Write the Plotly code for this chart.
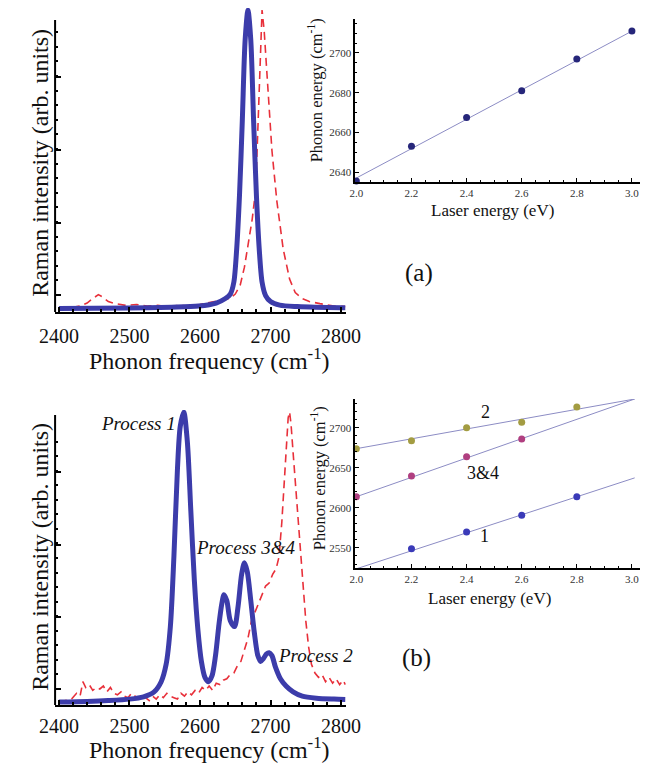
import numpy as np
import plotly.graph_objects as go

W, H = 665, 769

# ---------------- DATA ----------------
# Panel (a) main: Raman spectra (normalised intensity)
a_blue_x = [2400, 2500, 2560, 2598, 2623, 2636, 2643, 2648, 2652, 2656, 2660, 2664, 2668,
            2672, 2676, 2680, 2684, 2688, 2693, 2700, 2713, 2738, 2800, 2806]
a_blue_y = [0.002, 0.003, 0.006, 0.01, 0.02, 0.035, 0.05, 0.09, 0.2, 0.38, 0.63, 0.9, 1.0,
            0.9, 0.63, 0.38, 0.2, 0.09, 0.045, 0.025, 0.013, 0.008, 0.004, 0.004]
a_red_x = [2400, 2415, 2430, 2440, 2448, 2456, 2462, 2470, 2480, 2495, 2510, 2525, 2540, 2555,
           2570, 2585, 2600, 2612, 2622, 2632, 2642, 2650, 2657, 2663, 2669, 2674, 2679, 2683,
           2686, 2688, 2691, 2695, 2702, 2709, 2718, 2727, 2735, 2745, 2755, 2770, 2790, 2806]
a_red_y = [0.0, 0.003, 0.01, 0.02, 0.035, 0.048, 0.04, 0.025, 0.018, 0.012, 0.015, 0.01, 0.012,
           0.008, 0.012, 0.01, 0.015, 0.02, 0.025, 0.03, 0.035, 0.05, 0.08, 0.14, 0.22, 0.3,
           0.4, 0.65, 0.9, 1.0, 0.93, 0.78, 0.53, 0.36, 0.2, 0.1, 0.055, 0.035, 0.025, 0.018,
           0.01, 0.008]

# Panel (a) inset: phonon energy vs laser energy
a_laser = [2.0, 2.2, 2.4, 2.6, 2.8, 3.0]
a_phonon = [2635.5, 2653, 2667.5, 2681, 2697, 2711]
a_fit_x = [2.0, 3.0]
a_fit_y = [2637, 2711]

# Panel (b) main
b_blue_x = [2400, 2440, 2470, 2500, 2520, 2535, 2545, 2552, 2558, 2563, 2568, 2572, 2577, 2582,
            2587, 2592, 2597, 2602, 2607, 2612, 2617, 2622, 2627, 2631, 2634, 2638, 2643, 2649,
            2654, 2659, 2663, 2667, 2672, 2677, 2682, 2686, 2690, 2694, 2698, 2702, 2707, 2714,
            2722, 2732, 2745, 2765, 2790, 2806]
b_blue_y = [0.0, 0.002, 0.005, 0.01, 0.018, 0.035, 0.07, 0.13, 0.26, 0.5, 0.8, 0.95, 1.0, 0.9,
            0.66, 0.42, 0.25, 0.14, 0.085, 0.07, 0.09, 0.16, 0.27, 0.34, 0.37, 0.35, 0.28, 0.26,
            0.33, 0.44, 0.48, 0.45, 0.35, 0.24, 0.16, 0.14, 0.15, 0.165, 0.17, 0.16, 0.12, 0.08,
            0.055, 0.035, 0.02, 0.013, 0.01, 0.009]
b_red_x = [2400, 2410, 2418, 2425, 2430, 2434, 2438, 2443, 2448, 2453, 2458, 2463, 2468, 2473,
           2478, 2483, 2488, 2493, 2498, 2503, 2508, 2513, 2518, 2523, 2528, 2533, 2538, 2543,
           2548, 2553, 2558, 2563, 2568, 2573, 2578, 2583, 2588, 2593, 2598, 2603, 2608, 2613,
           2618, 2623, 2628, 2633, 2638, 2643, 2648, 2653, 2658, 2663, 2668, 2673, 2678, 2683,
           2688, 2693, 2698, 2703, 2708, 2712, 2716, 2719, 2722, 2725, 2727, 2729, 2732, 2735,
           2738, 2742, 2746, 2750, 2754, 2758, 2763, 2768, 2773, 2778, 2783, 2788, 2793, 2798,
           2803, 2806]
b_red_y = [0.0, 0.005, 0.01, 0.03, 0.02, 0.07, 0.05, 0.06, 0.04, 0.05, 0.045, 0.055, 0.035, 0.05,
           0.03, 0.025, 0.035, 0.02, 0.015, 0.03, 0.02, 0.01, 0.025, 0.015, 0.005, 0.02, 0.01,
           0.025, 0.015, 0.03, 0.02, 0.015, 0.01, 0.03, 0.02, 0.035, 0.025, 0.04, 0.03, 0.05,
           0.04, 0.055, 0.04, 0.065, 0.06, 0.075, 0.08, 0.095, 0.1, 0.125, 0.14, 0.18, 0.22,
           0.28, 0.31, 0.34, 0.37, 0.4, 0.41, 0.44, 0.46, 0.5, 0.62, 0.74, 0.9, 0.98, 1.0, 0.96,
           0.86, 0.76, 0.66, 0.53, 0.4, 0.28, 0.19, 0.13, 0.1, 0.085, 0.095, 0.07, 0.085, 0.065,
           0.08, 0.06, 0.075, 0.06]

# Panel (b) inset
b_laser_1 = [2.0, 2.2, 2.4, 2.6, 2.8]
b_phonon_1 = [2524, 2549, 2570, 2591, 2614]
b_laser_34 = [2.0, 2.2, 2.4, 2.6]
b_phonon_34 = [2614, 2640, 2664, 2686]
b_laser_2 = [2.0, 2.2, 2.4, 2.6, 2.8]
b_phonon_2 = [2674, 2684, 2700, 2707, 2726]
b_fit_x = [2.0, 3.01]
b_fit1_y = [2524, 2637.5]
b_fit34_y = [2614, 2736]
b_fit2_y = [2674, 2736]

# ---------------- STYLE ----------------
SERIF = "Liberation Serif, Times New Roman, DejaVu Serif, serif"
BLUE = "#3c3caa"
RED = "#e8303a"
FIT = "#8c8cc4"

def px(x):
    return x / W

def py(y):
    return 1 - y / H

fig = go.Figure()

def spectrum(xs, ys, color, width, dash, xa, ya, shape="spline"):
    fig.add_trace(go.Scatter(x=xs, y=ys, mode="lines", xaxis=xa, yaxis=ya,
                             line=dict(color=color, width=width, dash=dash, shape=shape,
                                       smoothing=0.8 if shape == "spline" else None),
                             showlegend=False, hoverinfo="skip"))

# Panel a main
spectrum(a_red_x, a_red_y, RED, 1.6, "8px,5px", "x", "y", "linear")
spectrum(a_blue_x, a_blue_y, BLUE, 5, "solid", "x", "y")
# Panel a inset
fig.add_trace(go.Scatter(x=a_fit_x, y=a_fit_y, mode="lines", xaxis="x2", yaxis="y2",
                         line=dict(color=FIT, width=1), showlegend=False))
fig.add_trace(go.Scatter(x=a_laser, y=a_phonon, mode="markers", xaxis="x2", yaxis="y2",
                         marker=dict(color="#26267a", size=7), cliponaxis=False, showlegend=False))
# Panel b main
spectrum(b_red_x, b_red_y, RED, 1.6, "8px,5px", "x3", "y3", "linear")
spectrum(b_blue_x, b_blue_y, BLUE, 5, "solid", "x3", "y3")
# Panel b inset
for fy in (b_fit1_y, b_fit34_y, b_fit2_y):
    fig.add_trace(go.Scatter(x=b_fit_x, y=fy, mode="lines", xaxis="x4", yaxis="y4",
                             line=dict(color=FIT, width=1), showlegend=False))
for xs, ys, c in ((b_laser_1, b_phonon_1, "#3a3ab8"),
                  (b_laser_34, b_phonon_34, "#b03f80"),
                  (b_laser_2, b_phonon_2, "#a39c42")):
    fig.add_trace(go.Scatter(x=xs, y=ys, mode="markers", xaxis="x4", yaxis="y4",
                             marker=dict(color=c, size=7), cliponaxis=False, showlegend=False))

# ---------------- AXES ----------------
main_x_dom = [px(41), px(346)]
main_x_rng = [2394.6, 2806.8]
inset_x_dom = [px(356), px(655)]
inset_x_rng = [1.9965, 3.031]

def main_x(anchor, standoff):
    return dict(domain=main_x_dom, range=main_x_rng, anchor=anchor, showline=True,
                linecolor="black", linewidth=2, ticks="inside", ticklen=5, tickwidth=1.5,
                tickcolor="black", tickvals=[2400, 2500, 2600, 2700, 2800],
                ticklabelstandoff=standoff,
                minor=dict(ticks="inside", ticklen=3, tickcolor="black", dtick=20, tick0=2400),
                tickfont=dict(family=SERIF, size=20, color="#111"), showgrid=False,
                zeroline=False, fixedrange=True)

def main_y(anchor, dom, rng, majors, step):
    minors = list(np.arange(majors[0], rng[1] - 0.07, step))
    return dict(domain=dom, range=rng, anchor=anchor, showline=False, ticks="inside",
                ticklen=6, tickwidth=1.5, tickcolor="black", tickvals=majors,
                showticklabels=False,
                minor=dict(ticks="inside", ticklen=3, tickcolor="black", tickvals=minors),
                showgrid=False, zeroline=False, fixedrange=True)

def inset_x(anchor):
    return dict(domain=inset_x_dom, range=inset_x_rng, anchor=anchor, showline=True,
                linecolor="black", linewidth=2, ticks="inside", ticklen=4, tickcolor="black",
                tick0=2.0, dtick=0.2, tickformat=".1f",
                minor=dict(ticks="inside", ticklen=2, tickcolor="black", dtick=0.05, tick0=2.0),
                tickfont=dict(family=SERIF, size=11, color="#333"), showgrid=False,
                zeroline=False, fixedrange=True)

def inset_y(anchor, dom, rng, dtick, mdt, tick0):
    return dict(domain=dom, range=rng, anchor=anchor, showline=True, linecolor="black",
                linewidth=2, ticks="inside", ticklen=4, tickcolor="black", tick0=tick0,
                dtick=dtick, minor=dict(ticks="inside", ticklen=2, tickcolor="black",
                                        dtick=mdt, tick0=tick0),
                tickfont=dict(family=SERIF, size=11, color="#333"), showgrid=False,
                zeroline=False, fixedrange=True)

fig.update_layout(
    width=W, height=H, margin=dict(l=0, r=0, t=0, b=0),
    paper_bgcolor="white", plot_bgcolor="rgba(0,0,0,0)",
    font=dict(family=SERIF),
    xaxis=main_x("y", 5),
    yaxis=main_y("x", [py(312), py(8)], [-0.01, 1.0067], [0.047, 0.288, 0.532, 0.776], 0.0488),
    xaxis2=inset_x("y2"),
    yaxis2=inset_y("x2", [py(182), py(19)], [2635.0, 2717.1], 20, 5, 2640),
    xaxis3=main_x("y3", 2),
    yaxis3=main_y("x3", [py(705), py(410)], [-0.0103, 1.0069], [0.0447, 0.292, 0.543, 0.794], 0.0502),
    xaxis4=inset_x("y4"),
    yaxis4=inset_y("x4", [py(568), py(399)], [2525, 2736], 50, 10, 2550),
)

# y-axis lines of the main panels (Mathematica-style, shorter than the peaks)
for ytop, ybot in ((20, 312), (415, 705)):
    fig.add_shape(type="line", xref="paper", yref="paper", x0=px(41), x1=px(41),
                  y0=py(ybot), y1=py(ytop), line=dict(color="black", width=2))

# ---------------- TEXT ----------------
def ann(text, x, y, size, angle=0, italic=False, color="#111"):
    fig.add_annotation(text=f"<i>{text}</i>" if italic else text, xref="paper", yref="paper",
                       x=px(x), y=py(y), showarrow=False, textangle=angle,
                       xanchor="center", yanchor="middle",
                       font=dict(family=SERIF, size=size, color=color))

ann("Raman intensity (arb. units)", 25, 163, 24, -90)
ann("Phonon frequency (cm<sup>-1</sup>)", 203, 359, 24)
ann("Raman intensity (arb. units)", 25, 557, 24, -90)
ann("Phonon frequency (cm<sup>-1</sup>)", 203, 748, 24)
ann("Laser energy (eV)", 500, 210, 17)
ann("Phonon energy (cm<sup>-1</sup>)", 314, 90, 16.5, -90)
ann("Laser energy (eV)", 497, 598, 17)
ann("Phonon energy (cm<sup>-1</sup>)", 317, 478, 16.5, -90)
ann("(a)", 423, 273, 25)
ann("(b)", 420, 658, 25)
ann("Process 1", 129, 423, 19, italic=True)
ann("Process 3&amp;4", 241, 547, 19, italic=True)
ann("Process 2", 314, 655, 19, italic=True)

for t, xv, yv in (("2", 2.467, 2720), ("3&amp;4", 2.46, 2644), ("1", 2.465, 2565)):
    fig.add_annotation(text=t, xref="x4", yref="y4", x=xv, y=yv, showarrow=False,
                       font=dict(family=SERIF, size=18, color="#111"))

fig.write_html("out.html", config={"displayModeBar": False},
               post_script="document.body.style.margin='0';")
